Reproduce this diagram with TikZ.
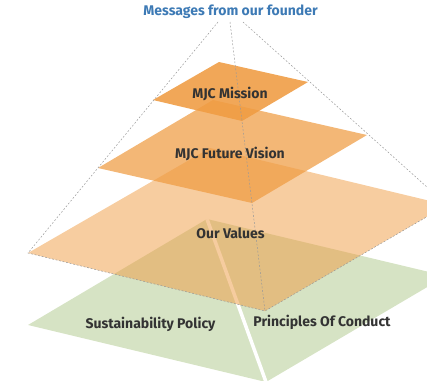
\documentclass[tikz,border=0pt]{standalone}
\usepackage{fontspec}
\setmainfont{Fira Sans}
\definecolor{mjcorange}{RGB}{239,155,65}
\definecolor{mjcgreen}{RGB}{214,227,196}
\definecolor{mjcblue}{RGB}{61,122,181}
\definecolor{mjctext}{RGB}{51,51,51}
\newcommand\plane[4]{(#1) -- (#2) -- (#3) -- (#4) -- cycle}
\begin{document}
\begin{tikzpicture}[x=1pt,y=-1pt,
  layer/.style={fill=mjcorange,fill opacity=#1},
  guide/.style={draw=black!40,line width=0.5pt,dash pattern=on 1.8pt off 1.8pt},
  lbl/.style={font=\fontsize{14}{16}\selectfont\bfseries,text=mjctext,inner sep=0pt}]
		\useasboundingbox (0,0) rectangle (427,380);
		\clip (0,0) rectangle (427,380);

		\coordinate (gL) at (28,325);  \coordinate (gT) at (207,219);
		\coordinate (gR) at (446,276); \coordinate (gB) at (266,382);
		\coordinate (vL) at (28,253);  \coordinate (vT) at (210,148);
		\coordinate (vR) at (447,205); \coordinate (vB) at (265,311);
		\coordinate (fL) at (98,168);  \coordinate (fT) at (213,100);
		\coordinate (fR) at (367,135); \coordinate (fB) at (252,203);
		\coordinate (mL) at (153,100); \coordinate (mT) at (219,62);
		\coordinate (mR) at (308,82);  \coordinate (mB) at (242,121);
		\coordinate (a1) at (218,22);  \coordinate (a2) at (230,22);
		\coordinate (a3) at (243,22);

		\fill[mjcgreen] \plane{gL}{gT}{gR}{gB};
		\draw[white,line width=3.5pt] (gT) -- (gB);

		\fill[layer=0.5]  \plane{vL}{vT}{vR}{vB};
		\fill[layer=0.72] \plane{fL}{fT}{fR}{fB};
		\fill[layer=0.88] \plane{mL}{mT}{mR}{mB};

		\draw[guide] (a1) -- (vL) -- (vB) -- (vR) -- (a3);
		\draw[guide] (a2) -- (vB);

		\node[lbl,text=mjcblue] (founder) at (230.5,12) {Messages from our founder};
		\node[lbl] (mission) at (230,94) {MJC Mission};
		\node[lbl] (vision) at (230,154) {MJC Future Vision};
		\node[lbl] (values) at (230.5,233) {Our Values};
		\node[lbl] (policy) at (150.5,324) {Sustainability Policy};
		\node[lbl] (conduct) at (322,322) {Principles Of Conduct};
	\end{tikzpicture}
\end{document}
